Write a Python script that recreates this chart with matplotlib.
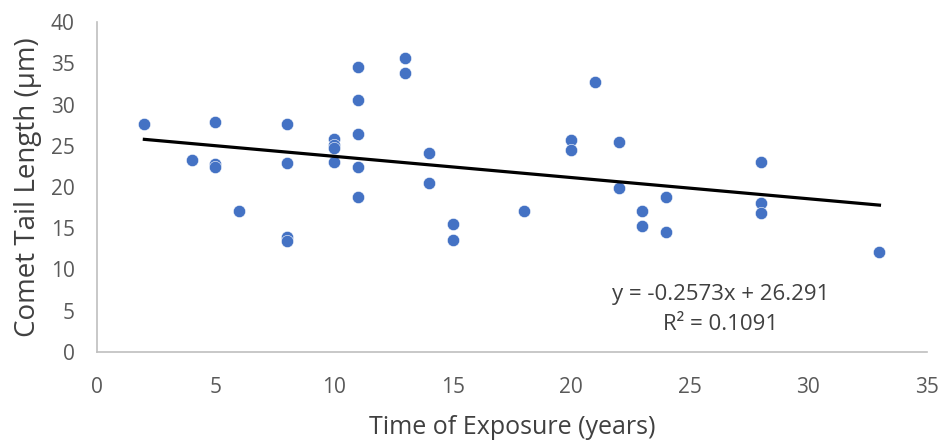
import matplotlib
matplotlib.use("Agg")
import matplotlib.pyplot as plt
import numpy as np

plt.rcParams['font.family'] = ['Open Sans', 'DejaVu Sans']

# exposure time (years) and comet tail length (um)
years = [2, 4, 5, 5, 5, 6, 8, 8, 8, 8,
         10, 10, 10, 10, 11, 11, 11, 11, 11, 13,
         13, 14, 14, 15, 15, 18, 20, 20, 21, 22,
         22, 23, 23, 24, 24, 28, 28, 28, 33]
tail = [27.6, 23.3, 27.9, 22.8, 22.4, 17.1, 27.6, 22.9, 13.9, 13.5,
        25.8, 25.1, 24.7, 23.0, 34.5, 30.6, 26.4, 22.4, 18.8, 35.6,
        33.8, 24.1, 20.5, 15.5, 13.6, 17.1, 25.7, 24.5, 32.7, 25.5,
        19.9, 17.1, 15.3, 18.8, 14.6, 23.0, 18.1, 16.9, 12.1]

slope = -0.2573
intercept = 26.291
r2 = 0.1091

xticks = [0, 5, 10, 15, 20, 25, 30, 35]
yticks = [0, 5, 10, 15, 20, 25, 30, 35, 40]

fig = plt.figure(figsize=(9.41, 4.41), dpi=100)
ax = fig.add_axes([0.103, 0.202, 0.882, 0.748])

ax.scatter(years, tail, s=78, color='#4472C4', edgecolors='white',
           linewidths=0.4, zorder=3)

xs = np.array([min(years), max(years)])
ax.plot(xs, slope * xs + intercept, color='black', linewidth=2.3, zorder=4)

ax.text(26.3, 7.0, 'y = -0.2573x + 26.291', ha='center', va='center',
        fontsize=16, color='#404040')
ax.text(26.3, 3.3, 'R² = 0.%s' % str(r2).split('.')[1], ha='center', va='center',
        fontsize=16, color='#404040')

ax.set_xlim(0, 35)
ax.set_ylim(0, 40)
ax.set_xticks(xticks)
ax.set_yticks(yticks)
ax.tick_params(length=0, labelsize=15, labelcolor='#595959')
ax.tick_params(axis='x', pad=18)
ax.tick_params(axis='y', pad=16)

for s in ['top', 'right']:
    ax.spines[s].set_visible(False)
for s in ['left', 'bottom']:
    ax.spines[s].set_color('#BFBFBF')
    ax.spines[s].set_linewidth(1.2)

ax.set_xlabel('Time of Exposure (years)', fontsize=18, color='#404040', labelpad=12)
ax.set_ylabel('Comet Tail Length (µm)', fontsize=20, color='#404040', labelpad=6)

fig.savefig('out.png', dpi=100)
